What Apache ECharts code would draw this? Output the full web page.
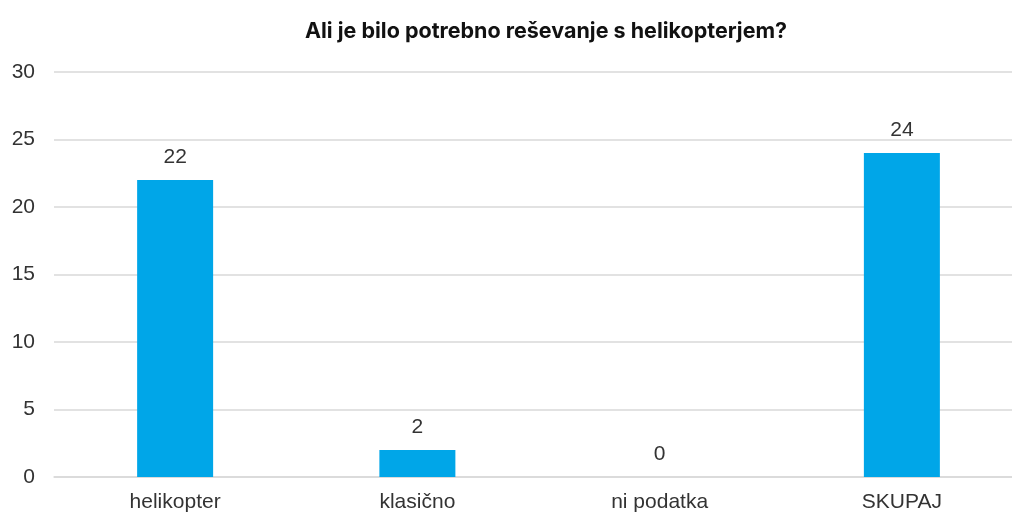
<!DOCTYPE html>
<html><head><meta charset="utf-8">
<script src="https://cdn.jsdelivr.net/npm/echarts@6/dist/echarts.min.js"></script>
<style>html,body{margin:0;padding:0;background:#fff;overflow:hidden}#c{width:1023px;height:514px}</style>
</head><body><div id="c"></div>
<script>
const categories = ['helikopter', 'klasično', 'ni podatka', 'SKUPAJ'];
const values = [22, 2, 0, 24];
const yTicks = [0, 5, 10, 15, 20, 25, 30];
const chart = echarts.init(document.getElementById('c'));
chart.setOption({
  animation: false,
  backgroundColor: '#fff',
  title: {
    text: 'Ali je bilo potrebno reševanje s helikopterjem?',
    left: 541, top: 16, textAlign: 'center',
    textStyle: {fontFamily: 'Inter', fontWeight: 'bold', fontSize: 21.5, color: '#111'}
  },
  grid: {left: 54, top: 72, right: 0, height: 405},
  xAxis: {
    type: 'category', data: categories,
    axisLine: {show: true, lineStyle: {color: '#d9d9d9', width: 1.5}},
    axisTick: {show: false},
    axisLabel: {fontFamily: 'Liberation Sans', fontSize: 21, color: '#333', margin: 15}
  },
  yAxis: {
    type: 'value', min: yTicks[0], max: yTicks[yTicks.length - 1], interval: 5,
    axisLine: {show: false}, axisTick: {show: false},
    splitLine: {lineStyle: {color: '#d9d9d9', width: 1.5}},
    axisLabel: {fontFamily: 'Liberation Sans', fontSize: 21, color: '#333', margin: 19}
  },
  series: [{
    type: 'bar', data: values, barWidth: 76,
    itemStyle: {color: '#00A6E8'},
    label: {show: true, position: 'top', distance: 12, fontFamily: 'Liberation Sans', fontSize: 21, color: '#333'}
  }]
});
</script></body></html>
